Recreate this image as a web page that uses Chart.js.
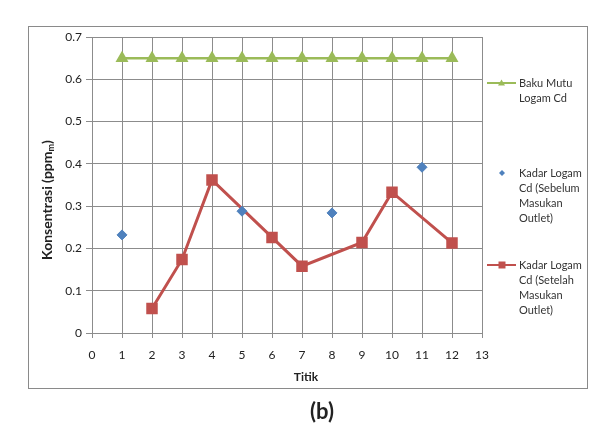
<!DOCTYPE html>
<html>
<head>
<title>Kadar Logam Cd</title>
<script src="https://cdn.jsdelivr.net/npm/chart.js"></script>
<style>
  body { margin: 0; background: #fff; }
  #wrap { width: 610px; height: 427px; }
</style>
</head>
<body>
  <div id="wrap"><canvas id="cdChart" width="610" height="427"></canvas></div>

  <script>
    // values
    const titik = [1, 2, 3, 4, 5, 6, 7, 8, 9, 10, 11, 12];
    const bakuMutu = [0.65, 0.65, 0.65, 0.65, 0.65, 0.65, 0.65, 0.65, 0.65, 0.65, 0.65, 0.65];
    const sebelum = [0.232, null, null, null, 0.288, null, null, 0.284, null, null, 0.392, null];
    const setelah = [null, 0.058, 0.174, 0.362, null, 0.226, 0.158, null, 0.214, 0.333, null, 0.213];
    const seriesNames = [
      ["Baku Mutu", "Logam Cd"],
      ["Kadar Logam", "Cd (Sebelum", "Masukan", "Outlet)"],
      ["Kadar Logam", "Cd (Setelah", "Masukan", "Outlet)"]
    ];

    const FONT = "Lato, 'Open Sans', sans-serif";
    const GREEN = "#9BBB59", BLUE = "#4F81BD", RED = "#C0504D";

    const toPoints = arr => titik.map((x, i) => ({ x: x, y: arr[i] }));

    // frame, legend, axis titles and caption
    const extras = {
      id: "extras",
      afterDraw(chart) {
        const c = chart.ctx;
        c.save();
        c.strokeStyle = "#8a8a8a";
        c.lineWidth = 1;
        c.strokeRect(28.5, 26.5, 559, 362);

        // y title with subscript
        c.fillStyle = "#222";
        c.translate(47, 200);
        c.rotate(-Math.PI / 2);
        c.font = "bold 14px " + FONT;
        const t1 = "Konsentrasi (ppm";
        const w1 = c.measureText(t1).width;
        c.font = "bold 9px " + FONT;
        const w2 = c.measureText("m").width;
        c.font = "bold 14px " + FONT;
        const w3 = c.measureText(")").width;
        let x0 = -(w1 + w2 + w3) / 2;
        c.textBaseline = "middle";
        c.textAlign = "left";
        c.fillText(t1, x0, 0);
        c.font = "bold 9px " + FONT;
        c.fillText("m", x0 + w1, 4);
        c.font = "bold 14px " + FONT;
        c.fillText(")", x0 + w1 + w2, 0);
        c.setTransform(1, 0, 0, 1, 0, 0);

        // x title
        c.textAlign = "center";
        c.font = "bold 12px " + FONT;
        c.fillText("Titik", 306, 377);

        // caption
        c.font = "bold 22px " + FONT;
        c.fillText("(b)", 322, 412);

        // legend
        c.font = "11px " + FONT;
        c.textAlign = "left";
        c.fillStyle = "#333";
        const legendY = [83, 173, 265];
        legendY.forEach((ly, k) => {
          if (k === 0 || k === 2) {
            c.strokeStyle = k === 0 ? GREEN : RED;
            c.lineWidth = 2;
            c.beginPath();
            c.moveTo(487, ly);
            c.lineTo(516, ly);
            c.stroke();
          }
          c.fillStyle = k === 0 ? GREEN : (k === 1 ? BLUE : RED);
          c.beginPath();
          if (k === 0) {
            c.moveTo(501.5, ly - 3.5); c.lineTo(505, ly + 2.5); c.lineTo(498, ly + 2.5);
          } else if (k === 1) {
            c.moveTo(502, ly - 3); c.lineTo(505, ly); c.lineTo(502, ly + 3); c.lineTo(499, ly);
          } else {
            c.rect(498.5, ly - 3.5, 7, 7);
          }
          c.closePath();
          c.fill();
          c.fillStyle = "#333";
          seriesNames[k].forEach((line, j) => c.fillText(line, 519, ly + j * 15.2));
        });
        c.restore();
      }
    };

    new Chart(document.getElementById("cdChart"), {
      type: "scatter",
      data: {
        datasets: [
          {
            label: "Baku Mutu Logam Cd",
            data: toPoints(bakuMutu),
            showLine: true,
            borderColor: GREEN,
            backgroundColor: GREEN,
            borderWidth: 2.5,
            pointStyle: "triangle",
            pointRadius: 5,
            order: 3
          },
          {
            label: "Kadar Logam Cd (Sebelum Masukan Outlet)",
            data: toPoints(sebelum),
            showLine: false,
            borderColor: BLUE,
            backgroundColor: BLUE,
            pointStyle: "rectRot",
            pointRadius: 5,
            order: 1
          },
          {
            label: "Kadar Logam Cd (Setelah Masukan Outlet)",
            data: toPoints(setelah),
            showLine: true,
            spanGaps: true,
            borderColor: RED,
            backgroundColor: RED,
            borderWidth: 3,
            pointStyle: "rect",
            pointRadius: 6,
            order: 2
          }
        ]
      },
      options: {
        responsive: false,
        animation: false,
        layout: { padding: { left: 28, top: 37, right: 128, bottom: 39 } },
        plugins: { legend: { display: false }, tooltip: { enabled: false } },
        scales: {
          x: {
            type: "linear",
            min: 0,
            max: 13,
            ticks: { stepSize: 1, color: "#222", font: { family: FONT, size: 12 }, padding: 10, maxRotation: 0 },
            grid: { color: "#8c8c8c", tickLength: 5, tickColor: "#8c8c8c" },
            border: { color: "#8c8c8c" },
            afterFit: s => { s.height = 55; }
          },
          y: {
            min: 0,
            max: 0.7,
            ticks: {
              stepSize: 0.1,
              color: "#222",
              font: { family: FONT, size: 12 },
              padding: 4,
              callback: v => Math.round(v * 10) / 10
            },
            grid: { color: "#8c8c8c", tickLength: 6, tickColor: "#8c8c8c" },
            border: { color: "#8c8c8c" },
            afterFit: s => { s.width = 64; }
          }
        }
      },
      plugins: [extras]
    });
  </script>
</body>
</html>
